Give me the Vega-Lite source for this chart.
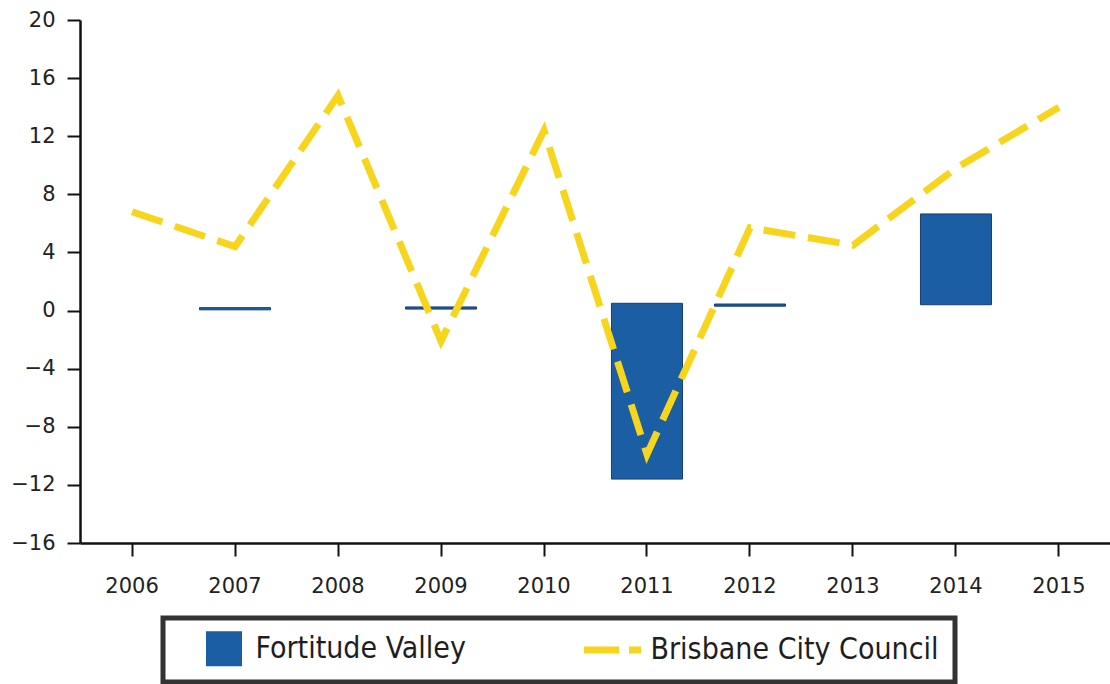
{
  "$schema": "https://vega.github.io/schema/vega-lite/v6.json",
  "width": 1031,
  "height": 523,
  "autosize": "none",
  "padding": {"left": 80, "top": 20, "right": 0, "bottom": 141},
  "background": "white",
  "config": {
    "view": {"stroke": null},
    "axis": {
      "labelFont": "DejaVu Sans",
      "labelFontSize": 21,
      "labelColor": "#222",
      "domainColor": "#111",
      "domainWidth": 2.5,
      "tickColor": "#111",
      "tickWidth": 2,
      "tickSize": 13,
      "grid": false,
      "title": null
    }
  },
  "data": {
    "values": [
      {"year": "2006", "series": "Brisbane City Council", "value": 6.8},
      {"year": "2007", "series": "Brisbane City Council", "value": 4.4},
      {"year": "2008", "series": "Brisbane City Council", "value": 14.8},
      {"year": "2009", "series": "Brisbane City Council", "value": -2.1},
      {"year": "2010", "series": "Brisbane City Council", "value": 12.4},
      {"year": "2011", "series": "Brisbane City Council", "value": -9.9},
      {"year": "2012", "series": "Brisbane City Council", "value": 5.7},
      {"year": "2013", "series": "Brisbane City Council", "value": 4.5},
      {"year": "2014", "series": "Brisbane City Council", "value": 9.8},
      {"year": "2015", "series": "Brisbane City Council", "value": 14.0},
      {"year": "2007", "series": "Fortitude Valley", "lo": 0.05, "hi": 0.2},
      {"year": "2009", "series": "Fortitude Valley", "lo": 0.1, "hi": 0.25},
      {"year": "2011", "series": "Fortitude Valley", "lo": -11.6, "hi": 0.5},
      {"year": "2012", "series": "Fortitude Valley", "lo": 0.3, "hi": 0.45},
      {"year": "2014", "series": "Fortitude Valley", "lo": 0.4, "hi": 6.65}
    ]
  },
  "encoding": {
    "x": {
      "field": "year",
      "type": "ordinal",
      "scale": {
        "domain": ["2006","2007","2008","2009","2010","2011","2012","2013","2014","2015"],
        "paddingInner": 0.31,
        "paddingOuter": 0.16
      },
      "axis": {"labelAngle": 0, "labelPadding": 19}
    },
    "color": {
      "field": "series",
      "type": "nominal",
      "scale": {"domain": ["Fortitude Valley", "Brisbane City Council"], "range": ["#1b5ea3", "#f7d51d"]},
      "legend": {
        "orient": "none",
        "legendX": 83,
        "legendY": 598,
        "direction": "horizontal",
        "title": null,
        "padding": 15.5,
        "strokeColor": "#333",
        "columnPadding": 103,
        "symbolOffset": 24,
        "symbolSize": 3249,
        "symbolType": "stroke",
        "labelOffset": 23,
        "labelFont": "DejaVu Sans Condensed",
        "labelFontSize": 30,
        "labelColor": "#1e1e1e",
        "labelLimit": 400,
        "encode": {
          "legend": {"update": {"strokeWidth": {"value": 5}}},
          "symbols": {
            "update": {
              "shape": {"signal": "datum.value === 'Fortitude Valley' ? 'M-0.404,-0.614H0.86V0.614H-0.404Z' : 'stroke'"},
              "size": {"value": 3249},
              "fill": {"signal": "datum.value === 'Fortitude Valley' ? '#1b5ea3' : 'transparent'"},
              "stroke": {"signal": "datum.value === 'Fortitude Valley' ? '#1b5ea3' : '#f7d51d'"},
              "strokeWidth": {"signal": "datum.value === 'Fortitude Valley' ? 0 : 7"},
              "strokeDash": {"signal": "datum.value === 'Fortitude Valley' ? [1, 0] : [35, 10, 12, 100]"},
              "opacity": {"value": 1}
            }
          }
        }
      }
    }
  },
  "layer": [
    {
      "transform": [{"filter": "datum.series === 'Fortitude Valley'"}],
      "mark": {"type": "bar", "stroke": "#173f70", "strokeWidth": 1},
      "encoding": {
        "y": {
          "field": "hi",
          "type": "quantitative",
          "scale": {"domain": [-16, 20], "nice": false, "zero": false},
          "axis": {"values": [-16,-12,-8,-4,0,4,8,12,16,20], "labelPadding": 12}
        },
        "y2": {"field": "lo"}
      }
    },
    {
      "transform": [{"filter": "datum.series === 'Brisbane City Council'"}],
      "mark": {"type": "line", "strokeWidth": 7, "strokeDash": [32, 13], "strokeCap": "butt"},
      "encoding": {
        "y": {"field": "value", "type": "quantitative"}
      }
    }
  ]
}
